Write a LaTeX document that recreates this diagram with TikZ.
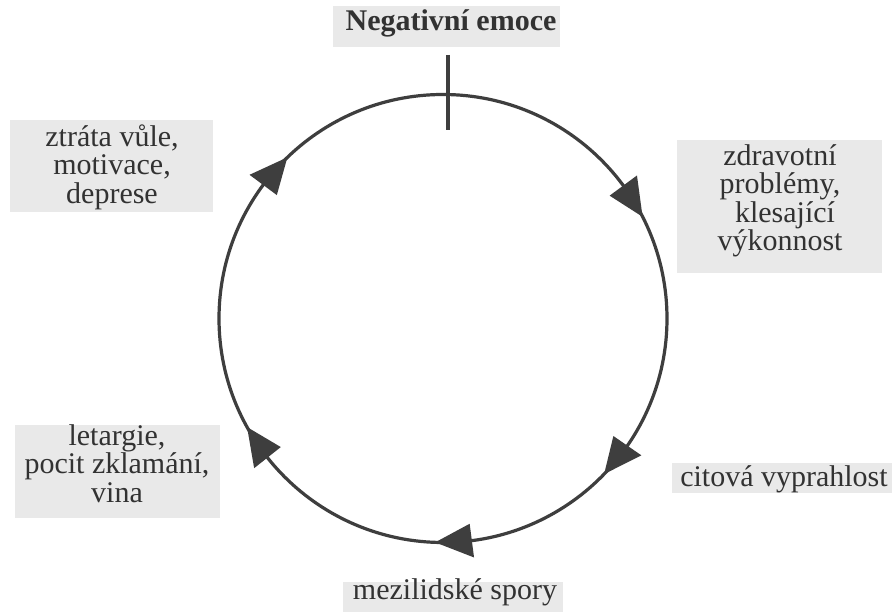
\documentclass[tikz,border=0pt]{standalone}
\usepackage{fontspec}
\setmainfont{Liberation Serif}
\usetikzlibrary{calc}
\definecolor{boxgray}{RGB}{233,233,233}
\definecolor{ink}{RGB}{62,62,62}
\definecolor{txt}{RGB}{50,50,50}
\begin{document}
\begin{tikzpicture}[x=1pt,y=1pt,
  box/.style={fill=boxgray, draw=none, inner sep=0pt},
  lab/.style={text=txt, align=center, inner sep=0pt, font=\fontsize{30}{28.3}\selectfont},
  cyc/.style={draw=ink, line width=3.2pt},
  head/.style={fill=ink}]
\useasboundingbox (0,0) rectangle (895,612);
\fill[white] (0,0) rectangle (895,612);
% boxes
\node[box, minimum width=227, minimum height=41] (negbox) at (446.5,585.5) {};
\node[box, minimum width=203, minimum height=92] (vulebox) at (111.5,446) {};
\node[box, minimum width=205, minimum height=133] (zdravbox) at (779.5,405.5) {};
\node[box, minimum width=205, minimum height=93] (letarbox) at (117.5,140.5) {};
\node[box, minimum width=220, minimum height=30] (citbox) at (782,134) {};
\node[box, minimum width=220, minimum height=34] (sporbox) at (453,13) {};
% texts
\node[lab, anchor=base, font=\bfseries\fontsize{30}{28.3}\selectfont] (neg) at (451,581) {Negativní emoce};
\node[lab, anchor=north] (vule) at (112,487.5) {ztráta vůle,\\motivace,\\deprese};
\node[lab, anchor=north] (zdrav) at (780,467.5) {zdravotní\\problémy,\\\hspace*{10pt}klesající\\výkonnost};
\node[lab, anchor=north] (letar) at (117,187.5) {letargie,\\pocit zklamání,\\vina};
\node[lab, anchor=base] (cit) at (784,125) {citová vyprahlost};
\node[lab, anchor=base] (spor) at (455,12) {mezilidské spory};
% cycle
\coordinate (c) at (443,293.5);
\coordinate (tickA) at (448,557);
\coordinate (tickB) at (448,482);
\draw[cyc] (c) circle (224);
\draw[cyc] (tickA) -- (tickB);
\foreach \a in {27,-44,-92,-151,-226}
  \fill[head] ($(c)+(\a:224)$) -- ($(c)+(\a+9.4:241)$) -- ($(c)+(\a+9.4:207)$) -- cycle;
\end{tikzpicture}
\end{document}
